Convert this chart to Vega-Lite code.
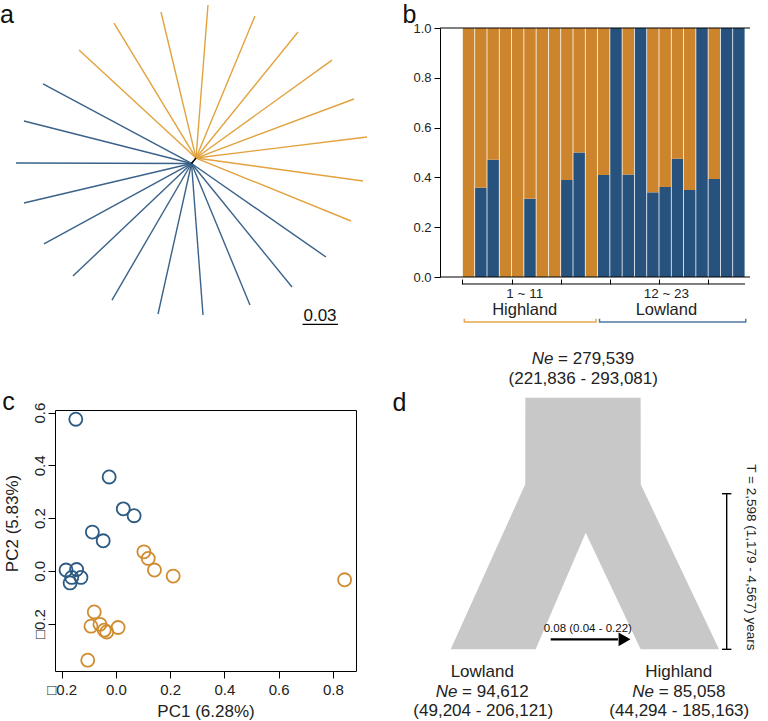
{
  "$schema": "https://vega.github.io/schema/vega-lite/v6.json",
  "padding": {"top": 2, "left": 0, "right": 0, "bottom": 0},
  "background": "white",
  "config": {
    "font": "Liberation Sans",
    "view": {"stroke": null},
    "axis": {"labelFont": "Liberation Sans", "titleFont": "Liberation Sans", "grid": false}
  },
  "bounds": "flush",
  "spacing": 382,
  "resolve": {"scale": {"color": "independent"}},
  "vconcat": [
    {
      "bounds": "flush",
      "spacing": 5,
      "resolve": {"scale": {"color": "independent"}},
      "hconcat": [
        {
          "width": 380,
          "height": 249,
          "layer": [
            {
              "data": {"values": [
                {"ind": 1, "group": "Highland", "hub_x": 0.0017, "hub_y": 0.0025, "tip_x": -0.0972, "tip_y": 0.0938},
                {"ind": 2, "group": "Highland", "hub_x": 0.0017, "hub_y": 0.0025, "tip_x": -0.0676, "tip_y": 0.1166},
                {"ind": 3, "group": "Highland", "hub_x": 0.0017, "hub_y": 0.0025, "tip_x": -0.0279, "tip_y": 0.1259},
                {"ind": 4, "group": "Highland", "hub_x": 0.0017, "hub_y": 0.0025, "tip_x": 0.0118, "tip_y": 0.1318},
                {"ind": 5, "group": "Highland", "hub_x": 0.0017, "hub_y": 0.0025, "tip_x": 0.0515, "tip_y": 0.1225},
                {"ind": 6, "group": "Highland", "hub_x": 0.0017, "hub_y": 0.0025, "tip_x": 0.0879, "tip_y": 0.1090},
                {"ind": 7, "group": "Highland", "hub_x": 0.0017, "hub_y": 0.0025, "tip_x": 0.1166, "tip_y": 0.0853},
                {"ind": 8, "group": "Highland", "hub_x": 0.0017, "hub_y": 0.0025, "tip_x": 0.1352, "tip_y": 0.0524},
                {"ind": 9, "group": "Highland", "hub_x": 0.0017, "hub_y": 0.0025, "tip_x": 0.1462, "tip_y": 0.0203},
                {"ind": 10, "group": "Highland", "hub_x": 0.0017, "hub_y": 0.0025, "tip_x": 0.1428, "tip_y": -0.0169},
                {"ind": 11, "group": "Highland", "hub_x": 0.0017, "hub_y": 0.0025, "tip_x": 0.1327, "tip_y": -0.0507},
                {"ind": 12, "group": "Lowland", "hub_x": -0.0021, "hub_y": -0.0021, "tip_x": 0.1115, "tip_y": -0.0811},
                {"ind": 13, "group": "Lowland", "hub_x": -0.0021, "hub_y": -0.0021, "tip_x": 0.0828, "tip_y": -0.1065},
                {"ind": 14, "group": "Lowland", "hub_x": -0.0021, "hub_y": -0.0021, "tip_x": 0.0473, "tip_y": -0.1217},
                {"ind": 15, "group": "Lowland", "hub_x": -0.0021, "hub_y": -0.0021, "tip_x": 0.0076, "tip_y": -0.1301},
                {"ind": 16, "group": "Lowland", "hub_x": -0.0021, "hub_y": -0.0021, "tip_x": -0.0304, "tip_y": -0.1293},
                {"ind": 17, "group": "Lowland", "hub_x": -0.0021, "hub_y": -0.0021, "tip_x": -0.0693, "tip_y": -0.1175},
                {"ind": 18, "group": "Lowland", "hub_x": -0.0021, "hub_y": -0.0021, "tip_x": -0.1023, "tip_y": -0.0972},
                {"ind": 19, "group": "Lowland", "hub_x": -0.0021, "hub_y": -0.0021, "tip_x": -0.1268, "tip_y": -0.0701},
                {"ind": 20, "group": "Lowland", "hub_x": -0.0021, "hub_y": -0.0021, "tip_x": -0.1437, "tip_y": -0.0355},
                {"ind": 21, "group": "Lowland", "hub_x": -0.0021, "hub_y": -0.0021, "tip_x": -0.1504, "tip_y": -0.0017},
                {"ind": 22, "group": "Lowland", "hub_x": -0.0021, "hub_y": -0.0021, "tip_x": -0.1437, "tip_y": 0.0338},
                {"ind": 23, "group": "Lowland", "hub_x": -0.0021, "hub_y": -0.0021, "tip_x": -0.1276, "tip_y": 0.0651}
              ]},
              "mark": {"type": "rule", "strokeWidth": 1.4},
              "encoding": {
                "x": {"field": "hub_x", "type": "quantitative", "scale": {"domain": [-0.11746, 0.20365], "nice": false, "zero": false}, "axis": null},
                "y": {"field": "hub_y", "type": "quantitative", "scale": {"domain": [-0.09802, 0.11239], "nice": false, "zero": false}, "axis": null},
                "x2": {"field": "tip_x"},
                "y2": {"field": "tip_y"},
                "color": {"field": "group", "type": "nominal", "scale": {"domain": ["Highland", "Lowland"], "range": ["#e2a23e", "#3a6289"]}, "legend": null}
              }
            },
            {
              "data": {"values": [{}]},
              "mark": {"type": "rule", "color": "black", "strokeWidth": 1.6},
              "encoding": {"x": {"datum": -0.0021}, "y": {"datum": -0.0021}, "x2": {"datum": 0.0017}, "y2": {"datum": 0.0025}}
            },
            {
              "data": {"values": [{}]},
              "mark": {"type": "rule", "color": "black", "strokeWidth": 1.3},
              "encoding": {"x": {"datum": 0.0917}, "x2": {"datum": 0.1217}, "y": {"datum": -0.138}}
            },
            {
              "data": {"values": [{}]},
              "mark": {"type": "text", "text": "0.03", "fontSize": 17, "align": "center", "baseline": "alphabetic", "color": "#111"},
              "encoding": {"x": {"datum": 0.1065}, "y": {"datum": -0.1352}}
            },
            {
              "data": {"values": [{}]},
              "mark": {"type": "text", "text": "a", "fontSize": 25, "align": "left", "baseline": "alphabetic", "color": "#111"},
              "encoding": {"x": {"datum": -0.1639}, "y": {"datum": 0.1166}}
            }
          ]
        },
        {
          "width": 310,
          "height": 249,
          "data": {"values": [
            {"ind": 1, "lowland": 0, "highland": 1},
            {"ind": 2, "lowland": 0.358, "highland": 0.642},
            {"ind": 3, "lowland": 0.471, "highland": 0.529},
            {"ind": 4, "lowland": 0, "highland": 1},
            {"ind": 5, "lowland": 0, "highland": 1},
            {"ind": 6, "lowland": 0.314, "highland": 0.686},
            {"ind": 7, "lowland": 0, "highland": 1},
            {"ind": 8, "lowland": 0, "highland": 1},
            {"ind": 9, "lowland": 0.39, "highland": 0.61},
            {"ind": 10, "lowland": 0.5, "highland": 0.5},
            {"ind": 11, "lowland": 0, "highland": 1},
            {"ind": 12, "lowland": 0.41, "highland": 0.59},
            {"ind": 13, "lowland": 1, "highland": 0},
            {"ind": 14, "lowland": 0.412, "highland": 0.588},
            {"ind": 15, "lowland": 1, "highland": 0},
            {"ind": 16, "lowland": 0.34, "highland": 0.66},
            {"ind": 17, "lowland": 0.361, "highland": 0.639},
            {"ind": 18, "lowland": 0.475, "highland": 0.525},
            {"ind": 19, "lowland": 0.349, "highland": 0.651},
            {"ind": 20, "lowland": 1, "highland": 0},
            {"ind": 21, "lowland": 0.394, "highland": 0.606},
            {"ind": 22, "lowland": 1, "highland": 0},
            {"ind": 23, "lowland": 1, "highland": 0}
          ]},
          "layer": [
            {
              "transform": [{"fold": ["lowland", "highland"], "as": ["cluster", "q"]}],
              "mark": {"type": "bar", "width": 11.5},
              "encoding": {
                "x": {"field": "ind", "type": "quantitative", "scale": {"domain": [-0.918, 23.5], "nice": false, "zero": false},
                  "axis": {"values": [0.5, 1.5, 2.5, 3.5, 4.5, 5.5, 6.5, 7.5, 8.5, 9.5, 10.5, 11.5, 12.5, 13.5, 14.5, 15.5, 16.5, 17.5, 18.5, 19.5, 20.5, 21.5, 22.5, 23.5],
                    "labels": false, "domain": false, "tickSize": -5, "offset": 7, "tickColor": "black", "tickWidth": 1, "title": null}},
                "y": {"field": "q", "type": "quantitative", "stack": "zero", "scale": {"domain": [0, 1], "nice": false, "zero": false},
                  "axis": {"values": [0, 0.2, 0.4, 0.6, 0.8, 1], "format": ".1f", "tickSize": 6, "labelFontSize": 13, "labelPadding": 3,
                    "domainColor": "black", "tickColor": "black", "labelColor": "#222", "title": null}},
                "color": {"field": "cluster", "type": "nominal", "scale": {"domain": ["highland", "lowland"], "range": ["#cd852d", "#27527d"]}, "legend": null},
                "order": {"field": "cluster", "sort": "descending"}
              }
            },
            {
              "data": {"values": [{}]},
              "mark": {"type": "rule", "color": "black", "strokeWidth": 1},
              "encoding": {"y": {"datum": 1}}
            },
            {
              "data": {"values": [{}]},
              "mark": {"type": "rule", "color": "black", "strokeWidth": 1},
              "encoding": {"y": {"datum": 0}}
            },
            {
              "data": {"values": [{}]},
              "mark": {"type": "rule", "color": "black", "strokeWidth": 1},
              "encoding": {"x": {"datum": 0.5}, "x2": {"datum": 23.5}, "y": {"datum": -0.0281}}
            },
            {
              "data": {"values": [
                {"i": 1, "x": 0.657, "y": -0.1675},
                {"i": 2, "x": 0.657, "y": -0.1807},
                {"i": 3, "x": 11.37, "y": -0.1807},
                {"i": 4, "x": 11.37, "y": -0.1675}
              ]},
              "mark": {"type": "line", "color": "#e6a84f", "strokeWidth": 1.5},
              "encoding": {"x": {"field": "x", "type": "quantitative"}, "y": {"field": "y", "type": "quantitative"}, "order": {"field": "i"}}
            },
            {
              "data": {"values": [
                {"i": 1, "x": 11.66, "y": -0.1675},
                {"i": 2, "x": 11.66, "y": -0.1807},
                {"i": 3, "x": 23.56, "y": -0.1807},
                {"i": 4, "x": 23.56, "y": -0.1675}
              ]},
              "mark": {"type": "line", "color": "#4f79a3", "strokeWidth": 1.5},
              "encoding": {"x": {"field": "x", "type": "quantitative"}, "y": {"field": "y", "type": "quantitative"}, "order": {"field": "i"}}
            },
            {
              "data": {"values": [
                {"label": "1 ~ 11", "x": 5.57, "y": -0.0685},
                {"label": "12 ~ 23", "x": 17.1, "y": -0.0685}
              ]},
              "mark": {"type": "text", "fontSize": 13.5, "align": "center", "baseline": "middle", "color": "#222"},
              "encoding": {"x": {"field": "x", "type": "quantitative"}, "y": {"field": "y", "type": "quantitative"}, "text": {"field": "label"}}
            },
            {
              "data": {"values": [
                {"label": "Highland", "x": 5.57, "y": -0.1325},
                {"label": "Lowland", "x": 17.1, "y": -0.1325}
              ]},
              "mark": {"type": "text", "fontSize": 16.5, "align": "center", "baseline": "middle", "color": "#222"},
              "encoding": {"x": {"field": "x", "type": "quantitative"}, "y": {"field": "y", "type": "quantitative"}, "text": {"field": "label"}}
            },
            {
              "data": {"values": [{}]},
              "mark": {"type": "text", "text": "b", "fontSize": 25, "align": "left", "baseline": "alphabetic", "color": "#111"},
              "encoding": {"x": {"datum": -4.383}, "y": {"datum": 1.0201}}
            }
          ]
        }
      ]
    },
    {
      "bounds": "flush",
      "spacing": 34,
      "resolve": {"scale": {"color": "independent"}},
      "hconcat": [
        {
          "width": 301,
          "height": 261,
          "view": {"stroke": "black", "strokeWidth": 1},
          "layer": [
            {
              "data": {"values": [
                {"PC1": -0.148, "PC2": 0.575, "group": "Lowland"},
                {"PC1": -0.025, "PC2": 0.356, "group": "Lowland"},
                {"PC1": 0.027, "PC2": 0.235, "group": "Lowland"},
                {"PC1": 0.067, "PC2": 0.209, "group": "Lowland"},
                {"PC1": -0.087, "PC2": 0.147, "group": "Lowland"},
                {"PC1": -0.047, "PC2": 0.114, "group": "Lowland"},
                {"PC1": -0.184, "PC2": 0.003, "group": "Lowland"},
                {"PC1": -0.145, "PC2": 0.005, "group": "Lowland"},
                {"PC1": -0.129, "PC2": -0.025, "group": "Lowland"},
                {"PC1": -0.163, "PC2": -0.025, "group": "Lowland"},
                {"PC1": -0.169, "PC2": -0.046, "group": "Lowland"},
                {"PC1": 0.103, "PC2": 0.072, "group": "Highland"},
                {"PC1": 0.119, "PC2": 0.047, "group": "Highland"},
                {"PC1": 0.142, "PC2": 0.003, "group": "Highland"},
                {"PC1": 0.211, "PC2": -0.02, "group": "Highland"},
                {"PC1": 0.843, "PC2": -0.034, "group": "Highland"},
                {"PC1": -0.08, "PC2": -0.156, "group": "Highland"},
                {"PC1": -0.092, "PC2": -0.21, "group": "Highland"},
                {"PC1": -0.059, "PC2": -0.203, "group": "Highland"},
                {"PC1": -0.043, "PC2": -0.225, "group": "Highland"},
                {"PC1": -0.034, "PC2": -0.232, "group": "Highland"},
                {"PC1": 0.008, "PC2": -0.215, "group": "Highland"},
                {"PC1": -0.104, "PC2": -0.339, "group": "Highland"}
              ]},
              "mark": {"type": "point", "filled": false, "size": 170, "strokeWidth": 1.8, "opacity": 1},
              "encoding": {
                "x": {"field": "PC1", "type": "quantitative", "scale": {"domain": [-0.2247, 0.885], "nice": false, "zero": false},
                  "axis": {"values": [-0.2, 0, 0.2, 0.4, 0.6, 0.8],
                    "labelExpr": "datum.value < 0 ? '□' + format(-datum.value, '.1f') : format(datum.value, '.1f')",
                    "domain": false, "tickSize": 7, "tickColor": "black", "labelFontSize": 15, "labelPadding": 4, "labelColor": "#222",
                    "title": "PC1 (6.28%)", "titleFontSize": 17, "titleFontWeight": "normal", "titleColor": "#222",
                    "titleY": 40, "titleBaseline": "middle"}},
                "y": {"field": "PC2", "type": "quantitative", "scale": {"domain": [-0.38, 0.61], "nice": false, "zero": false},
                  "axis": {"values": [-0.2, 0, 0.2, 0.4, 0.6],
                    "labelExpr": "datum.value < 0 ? '□' + format(-datum.value, '.1f') : format(datum.value, '.1f')",
                    "labelAngle": 270, "labelAlign": "center", "labelBaseline": "bottom",
                    "domain": false, "tickSize": 7, "tickColor": "black", "labelFontSize": 15, "labelPadding": 1, "labelColor": "#222",
                    "title": "PC2 (5.83%)", "titleFontSize": 17, "titleFontWeight": "normal", "titleColor": "#222",
                    "titleX": -43, "titleY": 113, "titleAngle": 270, "titleAlign": "center", "titleBaseline": "middle"}},
                "color": {"field": "group", "type": "nominal", "scale": {"domain": ["Highland", "Lowland"], "range": ["#d08c30", "#2c5a82"]}, "legend": null}
              }
            },
            {
              "data": {"values": [{}]},
              "mark": {"type": "text", "text": "c", "fontSize": 25, "align": "left", "baseline": "alphabetic", "color": "#111"},
              "encoding": {"x": {"datum": -0.4196}, "y": {"datum": 0.6099}}
            }
          ]
        },
        {
          "width": 378,
          "height": 261,
          "layer": [
            {
              "data": {"values": [
                {"x": 16.06, "top": 8.31, "bottom": 8.31},
                {"x": 35.78, "top": 71.53, "bottom": 8.31},
                {"x": 35.8, "top": 104.71, "bottom": 8.31},
                {"x": 38.54, "top": 104.71, "bottom": 8.31},
                {"x": 51.77, "top": 104.71, "bottom": 52.99},
                {"x": 66.31, "top": 104.71, "bottom": 8.31},
                {"x": 66.33, "top": 71.53, "bottom": 8.31},
                {"x": 87.04, "top": 8.31, "bottom": 8.31}
              ]},
              "mark": {"type": "area", "color": "#c8c8c8", "opacity": 1},
              "encoding": {
                "x": {"field": "x", "type": "quantitative", "scale": {"domain": [0, 100], "nice": false, "zero": false}, "axis": null},
                "y": {"field": "top", "type": "quantitative", "scale": {"domain": [0, 100], "nice": false, "zero": false}, "axis": null},
                "y2": {"field": "bottom"}
              }
            },
            {
              "data": {"values": [{}]},
              "mark": {"type": "rule", "color": "black", "strokeWidth": 2.2},
              "encoding": {"x": {"datum": 42.51}, "x2": {"datum": 60.3}, "y": {"datum": 12.15}}
            },
            {
              "data": {"values": [{}]},
              "mark": {"type": "point", "shape": "triangle-right", "filled": true, "color": "black", "size": 190, "opacity": 1},
              "encoding": {"x": {"datum": 62.04}, "y": {"datum": 12.15}}
            },
            {
              "data": {"values": [{}]},
              "mark": {"type": "text", "text": "0.08 (0.04 - 0.22)", "fontSize": 11.5, "align": "center", "baseline": "middle", "color": "#111"},
              "encoding": {"x": {"datum": 52.33}, "y": {"datum": 16.09}}
            },
            {
              "data": {"values": [{}]},
              "mark": {"type": "rule", "color": "black", "strokeWidth": 1.4},
              "encoding": {"x": {"datum": 89.07}, "y": {"datum": 67.93}, "y2": {"datum": 8.31}}
            },
            {
              "data": {"values": [{}]},
              "mark": {"type": "rule", "color": "black", "strokeWidth": 1.4},
              "encoding": {"x": {"datum": 87.83}, "x2": {"datum": 90.31}, "y": {"datum": 67.93}}
            },
            {
              "data": {"values": [{}]},
              "mark": {"type": "rule", "color": "black", "strokeWidth": 1.4},
              "encoding": {"x": {"datum": 87.83}, "x2": {"datum": 90.31}, "y": {"datum": 8.31}}
            },
            {
              "data": {"values": [{}]},
              "mark": {"type": "text", "text": "T = 2,598 (1,179 - 4,567) years", "fontSize": 13.5, "angle": 90, "align": "center", "baseline": "middle", "color": "#222"},
              "encoding": {"x": {"datum": 95.42}, "y": {"datum": 43.5}}
            },
            {
              "data": {"values": [
                {"label": "(221,836 - 293,081)", "x": 51.13, "y": 111.76},
                {"label": "Lowland", "x": 24.42, "y": -0.27},
                {"label": "(49,204 - 206,121)", "x": 24.68, "y": -15.33},
                {"label": "Highland", "x": 76.38, "y": -0.27},
                {"label": "(44,294 - 185,163)", "x": 76.53, "y": -15.33}
              ]},
              "mark": {"type": "text", "fontSize": 17, "align": "center", "baseline": "middle", "color": "#222"},
              "encoding": {"x": {"field": "x", "type": "quantitative"}, "y": {"field": "y", "type": "quantitative"}, "text": {"field": "label"}}
            },
            {
              "data": {"values": [
                {"label": "= 279,539", "x": 44.47, "y": 119.7},
                {"label": "= 94,612", "x": 19.07, "y": -7.93},
                {"label": "= 85,058", "x": 71.09, "y": -7.93}
              ]},
              "mark": {"type": "text", "fontSize": 17, "align": "left", "baseline": "middle", "color": "#222"},
              "encoding": {"x": {"field": "x", "type": "quantitative"}, "y": {"field": "y", "type": "quantitative"}, "text": {"field": "label"}}
            },
            {
              "data": {"values": [
                {"label": "Ne", "x": 43.23, "y": 119.7},
                {"label": "Ne", "x": 17.83, "y": -7.93},
                {"label": "Ne", "x": 69.84, "y": -7.93}
              ]},
              "mark": {"type": "text", "fontSize": 17, "fontStyle": "italic", "align": "right", "baseline": "middle", "color": "#222"},
              "encoding": {"x": {"field": "x", "type": "quantitative"}, "y": {"field": "y", "type": "quantitative"}, "text": {"field": "label"}}
            },
            {
              "data": {"values": [{}]},
              "mark": {"type": "text", "text": "d", "fontSize": 25, "align": "left", "baseline": "alphabetic", "color": "#111"},
              "encoding": {"x": {"datum": 0.66}, "y": {"datum": 99.6}}
            }
          ]
        }
      ]
    }
  ]
}
